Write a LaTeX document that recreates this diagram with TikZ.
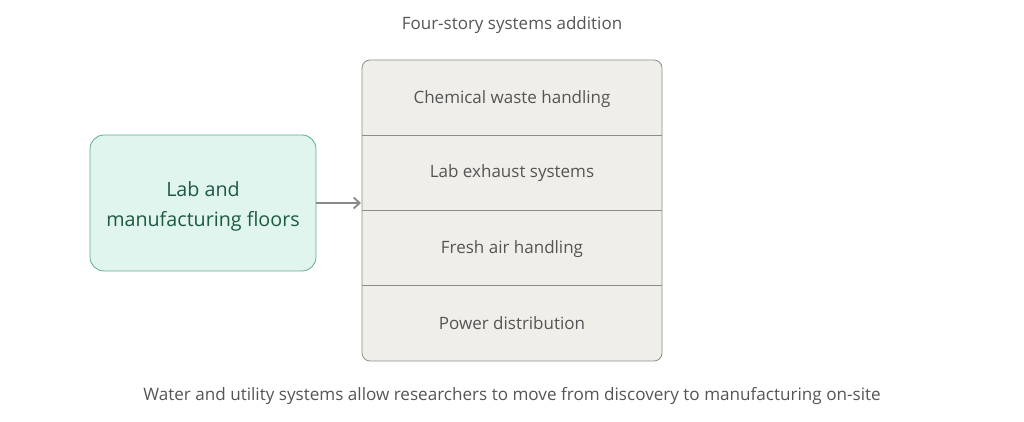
\documentclass[tikz,border=0pt]{standalone}
\usepackage{fontspec}
\setmainfont{Open Sans}
\usetikzlibrary{arrows.meta}
\definecolor{greenfill}{HTML}{E0F5EE}
\definecolor{greenline}{HTML}{5FAE8C}
\definecolor{greentext}{HTML}{1E5A42}
\definecolor{stackfill}{HTML}{F0EEE9}
\definecolor{stackline}{HTML}{8C8C8C}
\definecolor{graytext}{HTML}{555555}
\definecolor{arrowgray}{HTML}{8A8A8A}
\tikzset{
  srcbox/.style={draw=greenline, fill=greenfill, rounded corners=14pt, line width=0.8pt,
    minimum width=226pt, minimum height=136pt, inner sep=0pt},
  srctext/.style={inner sep=0pt, align=center, text=greentext, font=\fontsize{19.7}{30}\selectfont},
  layer/.style={minimum width=300pt, minimum height=75.25pt, inner sep=0pt,
    text=graytext, font=\fontsize{17}{20}\selectfont},
  caption/.style={text=graytext, inner sep=0pt},
  conn/.style={draw=arrowgray, line width=2pt, -{Straight Barb[length=6pt,width=11pt,line width=1.8pt]}}
}
\begin{document}
\begin{tikzpicture}[x=1pt,y=1pt]
\useasboundingbox (0,0) rectangle (1024,422);
% title
\node[caption, font=\fontsize{17}{20}\selectfont] (title) at (512,397) {Four-story systems addition};
% stack outline
\draw[draw=stackline, fill=stackfill, rounded corners=8pt, line width=0.8pt] (362,61) rectangle (662,362);
\node[layer] (l1) at (512,323.4) {Chemical waste handling};
\node[layer] (l2) at (512,248.6) {Lab exhaust systems};
\node[layer] (l3) at (512,173.4) {Fresh air handling};
\node[layer] (l4) at (512,98.6) {Power distribution};
\draw[stackline, line width=0.8pt] (512,286.75) ++(-150,0) -- ++(300,0);
\draw[stackline, line width=0.8pt] (512,211.5) ++(-150,0) -- ++(300,0);
\draw[stackline, line width=0.8pt] (512,136.25) ++(-150,0) -- ++(300,0);
% source
\node[srcbox] (src) at (203,219) {};
\node[srctext] (srclabel) at ([yshift=-3.5pt]src.center) {Lab and\\manufacturing floors};
\coordinate (stackleft) at (361,219);
\draw[conn] (src.east) -- (stackleft);
% caption
\node[caption, font=\fontsize{17.1}{20}\selectfont] (foot) at (512,26) {Water and utility systems allow researchers to move from discovery to manufacturing on-site};
\end{tikzpicture}
\end{document}
